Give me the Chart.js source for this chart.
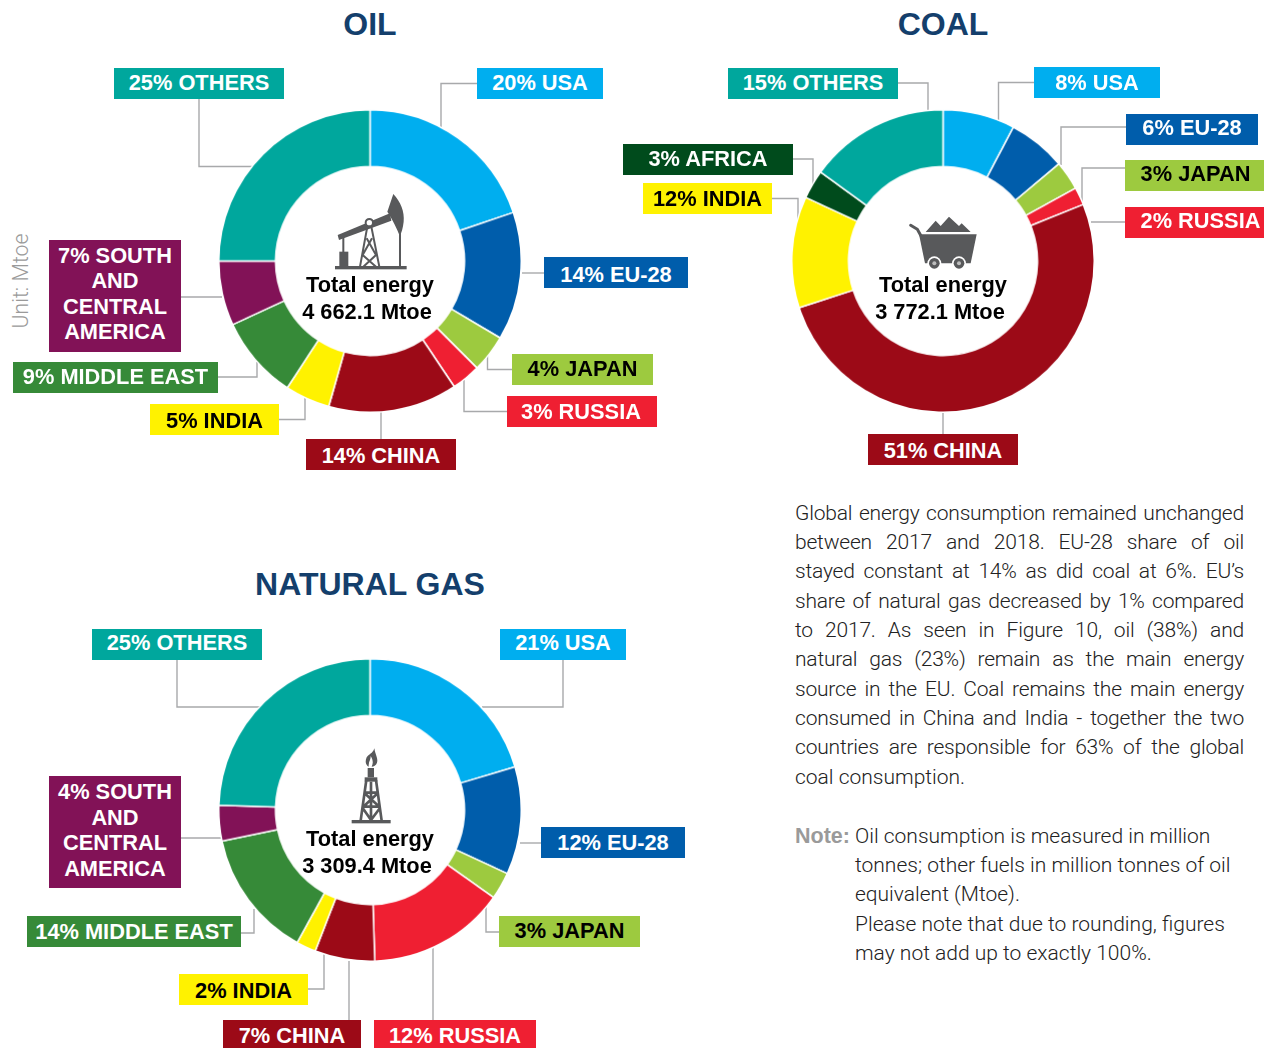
<!DOCTYPE html>
<html>
<head>
<meta charset="utf-8">
<title>Energy consumption by region</title>
<script src="https://cdn.jsdelivr.net/npm/chart.js"></script>
<style>
  html, body { margin: 0; padding: 0; background: #fff; }
  #page { position: relative; width: 1264px; height: 1048px; overflow: hidden; font-family: 'Liberation Sans', Arial, sans-serif; }
  #page canvas { position: absolute; }
  #leaders, #icons { position: absolute; left: 0; top: 0; }
  .title { position: absolute; transform: translateX(-50%); font-size: 32px; line-height: 36px; font-weight: bold; color: #143f6c; white-space: nowrap; }
  .tag { position: absolute; display: flex; align-items: center; justify-content: center; text-align: center; font-size: 21.8px; line-height: 25.5px; font-weight: bold; white-space: pre-line; box-sizing: border-box; }
  .total { position: absolute; transform: translate(-50%, -50%); font-size: 21.8px; line-height: 26px; font-weight: bold; color: #000; white-space: nowrap; }
  .unit { position: absolute; left: 20px; top: 281px; transform: translate(-50%, -50%) rotate(-90deg); font-family: Roboto, sans-serif; font-weight: 300; font-size: 21.3px; color: #9a9a9a; white-space: nowrap; }
  .body-line { position: absolute; font-family: Roboto, sans-serif; font-weight: 300; font-size: 21px; line-height: 29px; color: #222; white-space: nowrap; }
  .justified { white-space: normal; text-align: justify; text-align-last: justify; width: 449px; left: 795px; letter-spacing: -0.2px; }
  .note-head { font-family: 'Liberation Sans', Arial, sans-serif; font-weight: bold; font-size: 21.5px; color: #9a9a9a; }
</style>
</head>
<body>
<div id="page">
  <svg id="leaders" width="1264" height="1048"></svg>
  <svg id="icons" width="1264" height="1048" fill="#58595b" stroke="none">
    <!-- pump jack -->
    <g transform="translate(310,180) scale(0.3333)">
      <rect x="75" y="258" width="215" height="10"/>
      <rect x="88" y="215" width="27" height="45"/>
      <rect x="97" y="172" width="6" height="45"/>
      <polygon points="83,165 240,100 244,122 87,180"/>
      <path d="M232 95 L250 42 C272 65 284 95 281 125 C279 145 274 158 270 168 C262 150 248 118 232 95 Z"/>
      <rect x="267" y="150" width="6" height="110"/>
      <circle cx="178" cy="128" r="11" fill="#fff" stroke="#58595b" stroke-width="6"/>
      <g fill="none" stroke="#58595b" stroke-width="6">
        <path d="M172 140 L150 260 M184 140 L208 260 M170 175 L198 225 L160 260 M186 175 L158 225 L198 260"/>
      </g>
    </g>
    <!-- coal cart -->
    <g transform="translate(890,200) scale(0.3333)">
      <polygon points="107,96 137,62 152,78 177,50 207,78 215,70 242,96"/>
      <polygon points="87,103 260,103 242,190 105,190"/>
      <path d="M62 76 L82 88 L92 106" fill="none" stroke="#58595b" stroke-width="9" stroke-linecap="round"/>
      <circle cx="133" cy="190" r="21" fill="#fff"/>
      <circle cx="207" cy="190" r="21" fill="#fff"/>
      <circle cx="133" cy="190" r="16"/>
      <circle cx="207" cy="190" r="16"/>
      <circle cx="133" cy="190" r="6" fill="#bdbdbd"/>
      <circle cx="207" cy="190" r="6" fill="#bdbdbd"/>
    </g>
    <!-- gas rig -->
    <g transform="translate(330,740) scale(0.3333)">
      <rect x="65" y="240" width="117" height="10"/>
      <path d="M133 25 C136 45 145 55 141 68 C139 76 130 80 125 80 C131 68 128 58 122 48 C122 62 116 62 116 80 C108 76 104 66 110 52 C116 42 128 42 133 25 Z"/>
      <rect x="113" y="84" width="19" height="28"/>
      <rect x="104" y="112" width="38" height="13"/>
      <g fill="none" stroke="#58595b" stroke-width="8">
        <path d="M109 120 L92 242 M138 120 L155 242 M123 125 L123 242 M104 158 L143 158 M98 200 L150 200 M104 160 L148 200 M143 160 L100 200 M98 204 L123 240 M150 204 L123 240"/>
      </g>
    </g>
  </svg>
</div>

<script>
// clockwise from 12 o'clock. Shares are read off the drawn slices, they do not
// always agree with the printed labels (gas Russia is drawn wider than its 12%)
const oilCategories = ['USA', 'EU-28', 'JAPAN', 'RUSSIA', 'CHINA', 'INDIA', 'MIDDLE EAST', 'SOUTH AND CENTRAL AMERICA', 'OTHERS']
const oilShares = [19.8, 13.7, 4, 3.1, 13.8, 4.8, 8.9, 6.9, 25]
const oilPercents = [20, 14, 4, 3, 14, 5, 9, 7, 25]

const coalCategories = ['USA', 'EU-28', 'JAPAN', 'RUSSIA', 'CHINA', 'INDIA', 'AFRICA', 'OTHERS']
const coalShares = [7.7, 6.2, 3.1, 1.9, 51.1, 11.9, 3.1, 15]
const coalPercents = [8, 6, 3, 2, 51, 12, 3, 15]

const gasCategories = ['USA', 'EU-28', 'JAPAN', 'RUSSIA', 'CHINA', 'INDIA', 'MIDDLE EAST', 'SOUTH AND CENTRAL AMERICA', 'OTHERS']
const gasShares = [20.4, 11.5, 2.9, 14.7, 6.4, 2.1, 13.7, 3.8, 24.5]
const gasPercents = [21, 12, 3, 12, 7, 2, 14, 4, 25]

const totalLabel = 'Total energy'
const oilTotal = '4 662.1 Mtoe'
const coalTotal = '3 772.1 Mtoe'
const gasTotal = '3 309.4 Mtoe'

const categoryColors = {
  'USA': '#00aeef',
  'EU-28': '#005dab',
  'JAPAN': '#9dca3f',
  'RUSSIA': '#ef1f32',
  'CHINA': '#9c0a17',
  'INDIA': '#fff200',
  'MIDDLE EAST': '#368a38',
  'SOUTH AND CENTRAL AMERICA': '#821257',
  'AFRICA': '#004b1c',
  'OTHERS': '#00a79d'
}
const darkTextCategories = ['JAPAN', 'INDIA']

// tag box [left, top, width, height], text nudge [dx, dy] and leader line, same order as the categories
const oilLayout = [
  { box: [477, 68, 126, 31], nudge: [0, -1], line: '477,83.5 441,83.5 441,127' },
  { box: [544, 257, 144, 31], nudge: [0, 2], line: '522,273 544,273' },
  { box: [512, 354, 141, 31], nudge: [0, -1], line: '487.5,355 487.5,369.5 512,369.5' },
  { box: [507, 396, 150, 31], nudge: [-1, 0], line: '464,380 464,411.5 507,411.5' },
  { box: [306, 439, 150, 31], nudge: [0, 1], line: '381,412 381,439' },
  { box: [150, 404, 129, 31], nudge: [0, 1], line: '279,419.5 305,419.5 305,398' },
  { box: [13, 362, 205, 31], nudge: [0, -1], line: '218,377 257,377 257,362' },
  { box: [49, 240, 132, 112], nudge: [0, -2.5], line: '181,297 222,297' },
  { box: [114, 68, 170, 31], nudge: [0, -1], line: '199,99 199,166.5 253,166.5' }
]
const coalLayout = [
  { box: [1034, 67, 126, 31], nudge: [0, 0], line: '1034,82.5 998.5,82.5 998.5,120' },
  { box: [1126, 114, 132, 31], nudge: [0, -2], line: '1126,127 1061,127 1061,165' },
  { box: [1125, 160, 139, 31], nudge: [1, -2], line: '1125,168 1082,168 1082,204' },
  { box: [1125, 207, 139, 31], nudge: [6, -2], line: '1091,222 1125,222' },
  { box: [868, 434, 150, 31], nudge: [0, 1], line: '943,412 943,434' },
  { box: [643, 183, 129, 31], nudge: [0, 0], line: '772,198.5 798,198.5 798,220' },
  { box: [623, 144, 170, 31], nudge: [0, -1], line: '793,159 813,159 813,185' },
  { box: [728, 68, 170, 31], nudge: [0, -1], line: '898,83 928,83 928,110' }
]
const gasLayout = [
  { box: [500, 629, 126, 31], nudge: [0, -2], line: '563,660 563,707 482,707' },
  { box: [541, 827, 144, 31], nudge: [0, 0], line: '520,843 541,843' },
  { box: [499, 916, 141, 31], nudge: [0, -1], line: '486,907 486,932 499,932' },
  { box: [374, 1020, 162, 31], nudge: [0, 0], line: '433,948 433,1020' },
  { box: [223, 1020, 138, 31], nudge: [0, 0], line: '349,961 349,1020' },
  { box: [179, 974, 129, 31], nudge: [0, 1], line: '308,989 324,989 324,954' },
  { box: [27, 916, 214, 31], nudge: [0, 0], line: '241,933 254,933 254,909' },
  { box: [49, 776, 132, 112], nudge: [0, -2], line: '181,838 222,838' },
  { box: [92, 629, 170, 31], nudge: [0, -2], line: '177,660 177,707 260,707' }
]

const bodyLines = [
  'Global energy consumption remained unchanged',
  'between 2017 and 2018. EU-28 share of oil',
  'stayed constant at 14% as did coal at 6%. EU’s',
  'share of natural gas decreased by 1% compared',
  'to 2017. As seen in Figure 10, oil (38%) and',
  'natural gas (23%) remain as the main energy',
  'source in the EU. Coal remains the main energy',
  'consumed in China and India - together the two',
  'countries are responsible for 63% of the global',
  'coal consumption.'
]
const noteLines = [
  'Oil consumption is measured in million',
  'tonnes; other fuels in million tonnes of oil',
  'equivalent (Mtoe).',
  'Please note that due to rounding, figures',
  'may not add up to exactly 100%.'
]

const page = document.querySelector('#page')
const leaders = document.querySelector('#leaders')

function addDiv(className, text, css) {
  const el = document.createElement('div')
  el.className = className
  el.textContent = text
  Object.assign(el.style, css)
  page.appendChild(el)
  return el
}

function addLeader(points) {
  const line = document.createElementNS('http://www.w3.org/2000/svg', 'polyline')
  line.setAttribute('points', points)
  line.setAttribute('fill', 'none')
  line.setAttribute('stroke', '#a8a9ab')
  line.setAttribute('stroke-width', '1.4')
  leaders.appendChild(line)
}

function tagText(category, percent) {
  const name = category === 'SOUTH AND CENTRAL AMERICA' ? 'SOUTH\nAND\nCENTRAL\nAMERICA' : category
  return percent + '% ' + name
}

function drawDonut(cfg) {
  const radius = 151
  const border = 1.5
  const size = radius * 2 + border
  const canvas = document.createElement('canvas')
  canvas.width = size
  canvas.height = size
  canvas.style.left = (cfg.cx - size / 2) + 'px'
  canvas.style.top = (cfg.cy - size / 2) + 'px'
  canvas.style.width = size + 'px'
  canvas.style.height = size + 'px'
  page.appendChild(canvas)

  new Chart(canvas, {
    type: 'doughnut',
    data: {
      labels: cfg.categories,
      datasets: [{
        data: cfg.shares,
        backgroundColor: cfg.categories.map(c => categoryColors[c]),
        borderColor: '#ffffff',
        borderWidth: border
      }]
    },
    options: {
      responsive: false,
      animation: false,
      cutout: '62.5%',
      plugins: {
        legend: { display: false },
        tooltip: { enabled: false }
      }
    }
  })

  cfg.categories.forEach((category, i) => {
    const layout = cfg.layout[i]
    addLeader(layout.line)
    const tag = addDiv('tag', '', {
      left: layout.box[0] + 'px',
      top: layout.box[1] + 'px',
      width: layout.box[2] + 'px',
      height: layout.box[3] + 'px',
      background: categoryColors[category],
      color: darkTextCategories.includes(category) ? '#000' : '#fff'
    })
    const label = document.createElement('span')
    label.textContent = tagText(category, cfg.percents[i])
    label.style.position = 'relative'
    label.style.whiteSpace = 'pre-line'
    label.style.left = layout.nudge[0] + 'px'
    label.style.top = layout.nudge[1] + 'px'
    tag.appendChild(label)
  })

  addDiv('title', cfg.title, { left: cfg.cx + 'px', top: (cfg.titleY - 18) + 'px' })
  addDiv('total', totalLabel, { left: cfg.cx + 'px', top: (cfg.totalY) + 'px' })
  addDiv('total', cfg.total, { left: (cfg.cx - 3) + 'px', top: (cfg.totalY + 27) + 'px' })
}

drawDonut({ title: 'OIL', cx: 370, cy: 261, titleY: 24, totalY: 285, categories: oilCategories, shares: oilShares, percents: oilPercents, total: oilTotal, layout: oilLayout })
drawDonut({ title: 'COAL', cx: 943, cy: 261, titleY: 24, totalY: 285, categories: coalCategories, shares: coalShares, percents: coalPercents, total: coalTotal, layout: coalLayout })
drawDonut({ title: 'NATURAL GAS', cx: 370, cy: 810, titleY: 584, totalY: 839, categories: gasCategories, shares: gasShares, percents: gasPercents, total: gasTotal, layout: gasLayout })

addDiv('unit', 'Unit: Mtoe', {})

bodyLines.forEach((text, i) => {
  const last = i === bodyLines.length - 1
  addDiv(last ? 'body-line' : 'body-line justified', text, {
    left: '795px',
    top: (513 - 14.5 + i * 29.36) + 'px'
  })
})

addDiv('body-line note-head', 'Note:', { left: '795px', top: (836 - 14.5) + 'px' })
noteLines.forEach((text, i) => {
  addDiv('body-line', text, { left: '855px', top: (836 - 14.5 + i * 29.35) + 'px' })
})
</script>
</body>
</html>
